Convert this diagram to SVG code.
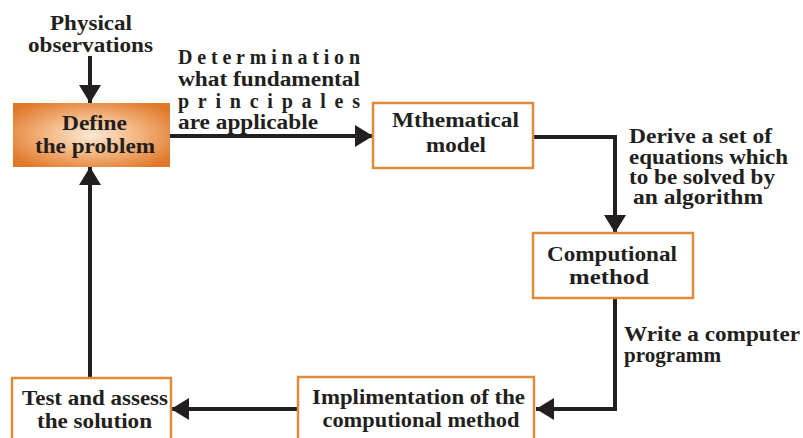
<svg xmlns="http://www.w3.org/2000/svg" width="803" height="438" viewBox="0 0 803 438">
<defs>
<radialGradient id="og" cx="50%" cy="50%" r="62%">
<stop offset="0" stop-color="#fce8d6"/>
<stop offset="0.45" stop-color="#f4b986"/>
<stop offset="1" stop-color="#e0782a"/>
</radialGradient>
<marker id="ah" markerUnits="userSpaceOnUse" markerWidth="20" markerHeight="22" refX="18" refY="11" orient="auto">
<path d="M0,0 L18,11 L0,22 Z" fill="#231f20"/>
</marker>
</defs>
<style>
text{font-family:"Liberation Serif","Times New Roman",serif;font-weight:bold;font-size:20px;fill:#231f20}
.c{text-anchor:middle}
.box{fill:#fff;stroke:#e08a3c;stroke-width:2.5}
.ln{fill:none;stroke:#231f20;stroke-width:4}
</style>
<rect width="803" height="438" fill="#fff"/>
<g id="connectors">
<line class="ln" x1="90" y1="56" x2="90" y2="103" marker-end="url(#ah)"/>
<line class="ln" x1="170" y1="136" x2="373" y2="136" marker-end="url(#ah)"/>
<polyline class="ln" points="533,137 615,137 615,233" marker-end="url(#ah)"/>
<polyline class="ln" points="615,298 615,409 536,409" marker-end="url(#ah)"/>
<line class="ln" x1="297" y1="409" x2="171" y2="409" marker-end="url(#ah)"/>
<line class="ln" x1="90" y1="377" x2="90" y2="167" marker-end="url(#ah)"/>
</g>
<g id="physical">
<text class="c" x="91" y="30" textLength="82" lengthAdjust="spacingAndGlyphs">Physical</text>
<text class="c" x="90.5" y="52" textLength="125" lengthAdjust="spacingAndGlyphs">observations</text>
</g>
<g id="label-determination">
<text x="178" y="64" textLength="182" lengthAdjust="spacing">Determination</text>
<text x="178" y="86" textLength="182" lengthAdjust="spacingAndGlyphs">what fundamental</text>
<text x="178" y="108" textLength="182" lengthAdjust="spacing">principales</text>
<text x="178" y="129" textLength="140" lengthAdjust="spacingAndGlyphs">are applicable</text>
</g>
<g id="define">
<rect x="13" y="103" width="157" height="64" fill="url(#og)"/>
<text class="c" x="94.5" y="130" textLength="65" lengthAdjust="spacingAndGlyphs">Define</text>
<text class="c" x="95" y="153" textLength="120" lengthAdjust="spacingAndGlyphs">the problem</text>
</g>
<g id="math">
<rect class="box" x="373" y="103" width="160" height="65"/>
<text class="c" x="455.5" y="127" textLength="127" lengthAdjust="spacingAndGlyphs">Mthematical</text>
<text class="c" x="456" y="152" textLength="60" lengthAdjust="spacingAndGlyphs">model</text>
</g>
<g id="label-derive">
<text x="629" y="143" textLength="143" lengthAdjust="spacingAndGlyphs">Derive a set of</text>
<text x="629" y="164" textLength="159" lengthAdjust="spacingAndGlyphs">equations which</text>
<text x="629" y="184" textLength="146" lengthAdjust="spacingAndGlyphs">to be solved by</text>
<text x="633" y="204" textLength="130" lengthAdjust="spacingAndGlyphs">an algorithm</text>
</g>
<g id="comp">
<rect class="box" x="533" y="233" width="160" height="65"/>
<text class="c" x="612" y="261" textLength="130" lengthAdjust="spacingAndGlyphs">Computional</text>
<text class="c" x="609" y="284" textLength="80" lengthAdjust="spacingAndGlyphs">method</text>
</g>
<g id="label-write">
<text x="624" y="341" textLength="176" lengthAdjust="spacingAndGlyphs">Write a computer</text>
<text x="624" y="362" textLength="97" lengthAdjust="spacingAndGlyphs">programm</text>
</g>
<g id="impl">
<rect class="box" x="298" y="377" width="236" height="70"/>
<text class="c" x="418.5" y="404" textLength="213" lengthAdjust="spacingAndGlyphs">Implimentation of the</text>
<text class="c" x="421" y="427" textLength="197" lengthAdjust="spacingAndGlyphs">computional method</text>
</g>
<g id="test">
<rect class="box" x="12" y="378" width="159" height="70"/>
<text class="c" x="95" y="405" textLength="146" lengthAdjust="spacingAndGlyphs">Test and assess</text>
<text class="c" x="94.5" y="428" textLength="115" lengthAdjust="spacingAndGlyphs">the solution</text>
</g>
</svg>
